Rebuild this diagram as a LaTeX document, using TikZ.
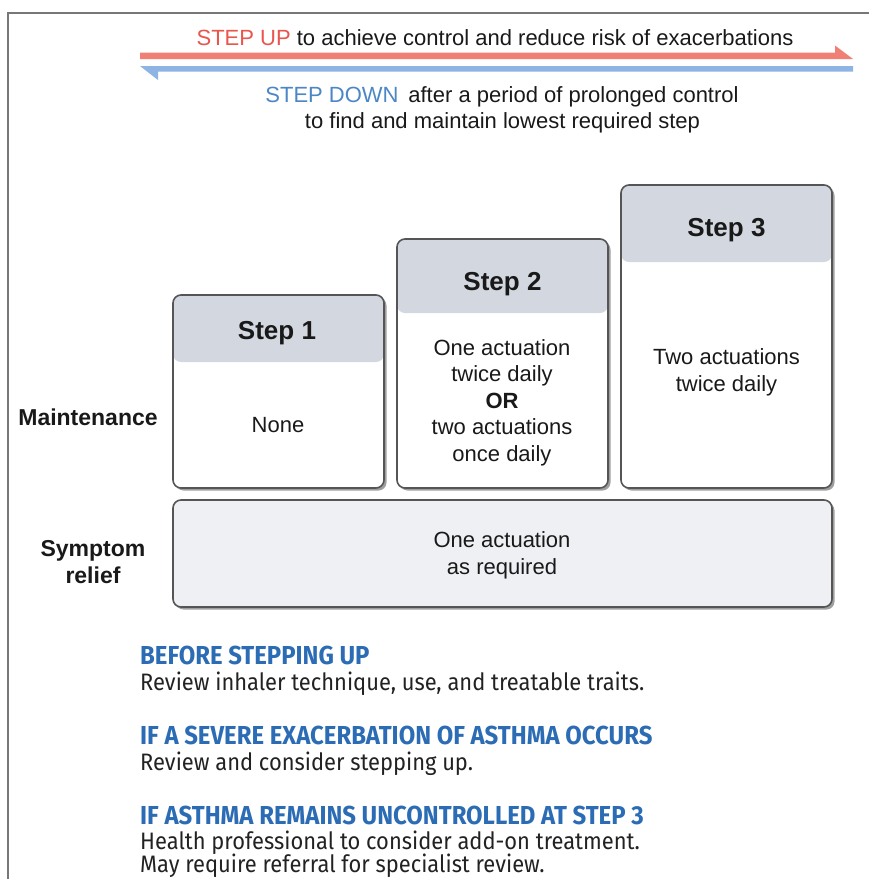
\documentclass[tikz,border=0pt]{standalone}
\usepackage{fontspec}
\setmainfont{Liberation Sans}
\newfontfamily\plexfont[FakeStretch=0.92]{Fira Sans}
\usetikzlibrary{shadows}
\definecolor{hdr}{HTML}{D3D8E0}
\definecolor{symfill}{HTML}{EFF0F3}
\definecolor{boxline}{HTML}{555555}
\definecolor{redarrow}{HTML}{F07F76}
\definecolor{redtext}{HTML}{E8564D}
\definecolor{bluearrow}{HTML}{8EB4E3}
\definecolor{bluetext}{HTML}{4C86C6}
\definecolor{headblue}{HTML}{2B6CB5}
\definecolor{bodytext}{HTML}{222222}
\definecolor{framegray}{HTML}{777777}
\begin{document}
\begin{tikzpicture}[x=1pt,y=-1pt,
  boxbase/.style={draw=boxline, line width=1.6pt, rounded corners=8pt,
    inner sep=0pt, drop shadow={shadow xshift=2.5pt, shadow yshift=-2.5pt, fill=black!50, opacity=0.75}},
  stepbox/.style={boxbase, fill=white,
    path picture={\fill[hdr] (path picture bounding box.north west) rectangle ([yshift=-#1]path picture bounding box.north east);}},
  symbox/.style={boxbase, fill=symfill},
  txt/.style={anchor=base, inner sep=0pt, font=\fontsize{22}{26}\selectfont, text=black!90},
  toptxt/.style={anchor=base, inner sep=0pt, font=\fontsize{22}{26}\selectfont, text=black!90},
  steplabel/.style={anchor=base, inner sep=0pt, font=\fontsize{26}{30}\selectfont\bfseries, text=black!90},
  rowlabel/.style={anchor=base, inner sep=0pt, font=\fontsize{23}{27}\selectfont\bfseries, text=black!90},
  headtxt/.style={anchor=base west, inner sep=0pt, font=\plexfont\fontsize{26}{28}\selectfont\bfseries, text=headblue},
  bodytxt/.style={anchor=base west, inner sep=0pt, font=\plexfont\fontsize{23.8}{26}\selectfont, text=bodytext}
]
\useasboundingbox (0,0) rectangle (869,879);
\fill[white] (0,0) rectangle (869,879);
% frame
\draw[framegray, line width=1.3pt] (8,879) -- (8,13) -- (869,13);

% arrows
\fill[redarrow] (140,52.5) -- (835,52.5) -- (835,45.5) -- (853,59) -- (140,59) -- cycle;
\fill[bluearrow] (853,66) -- (140,66) -- (158,80) -- (158,71.5) -- (853,71.5) -- cycle;

\node[toptxt] (up) at (495,45) {\textcolor{redtext}{STEP UP} to achieve control and reduce risk of exacerbations};
\node[toptxt] (down) at (502,102) {\textcolor{bluetext}{STEP DOWN}\, after a period of prolonged control};
\node[toptxt] (down2) at (502.5,128) {to find and maintain lowest required step};

% step boxes
\node[stepbox=67pt, minimum width=211pt, minimum height=193pt] (s1) at (278.5,391.5) {};
\node[stepbox=74pt, minimum width=211pt, minimum height=249pt] (s2) at (502.5,363.5) {};
\node[stepbox=77pt, minimum width=211pt, minimum height=303pt] (s3) at (726.5,336.5) {};
\node[symbox, minimum width=659pt, minimum height=107pt] (sym) at (502.5,553.5) {};

\node[steplabel] (l1) at (277,339) {Step 1};
\node[steplabel] (l2) at (502.5,290) {Step 2};
\node[steplabel] (l3) at (726.5,236) {Step 3};

\node[txt] (none) at (278,432) {None};
\node[txt] (a1) at (502,355) {One actuation};
\node[txt] (a2) at (502,381) {twice daily};
\node[txt, font=\fontsize{22}{26}\selectfont\bfseries] (a3) at (502,408) {OR};
\node[txt] (a4) at (502,434) {two actuations};
\node[txt] (a5) at (502,461) {once daily};
\node[txt] (b1) at (726.5,364) {Two actuations};
\node[txt] (b2) at (726.5,391) {twice daily};
\node[txt] (c1) at (502,547) {One actuation};
\node[txt] (c2) at (502,574) {as required};

\node[rowlabel] (maint) at (88,425) {Maintenance};
\node[rowlabel] (symp) at (93,556) {Symptom};
\node[rowlabel] (rel) at (93,583) {relief};

% notes
\node[headtxt] (h1) at (140,664) {BEFORE STEPPING UP};
\node[bodytxt] (t1) at (140,690) {Review inhaler technique, use, and treatable traits.};
\node[headtxt] (h2) at (140,744) {IF A SEVERE EXACERBATION OF ASTHMA OCCURS};
\node[bodytxt] (t2) at (140,770) {Review and consider stepping up.};
\node[headtxt] (h3) at (140,824) {IF ASTHMA REMAINS UNCONTROLLED AT STEP 3};
\node[bodytxt] (t3) at (140,849) {Health professional to consider add-on treatment.};
\node[bodytxt] (t4) at (140,872.5) {May require referral for specialist review.};
\end{tikzpicture}
\end{document}
